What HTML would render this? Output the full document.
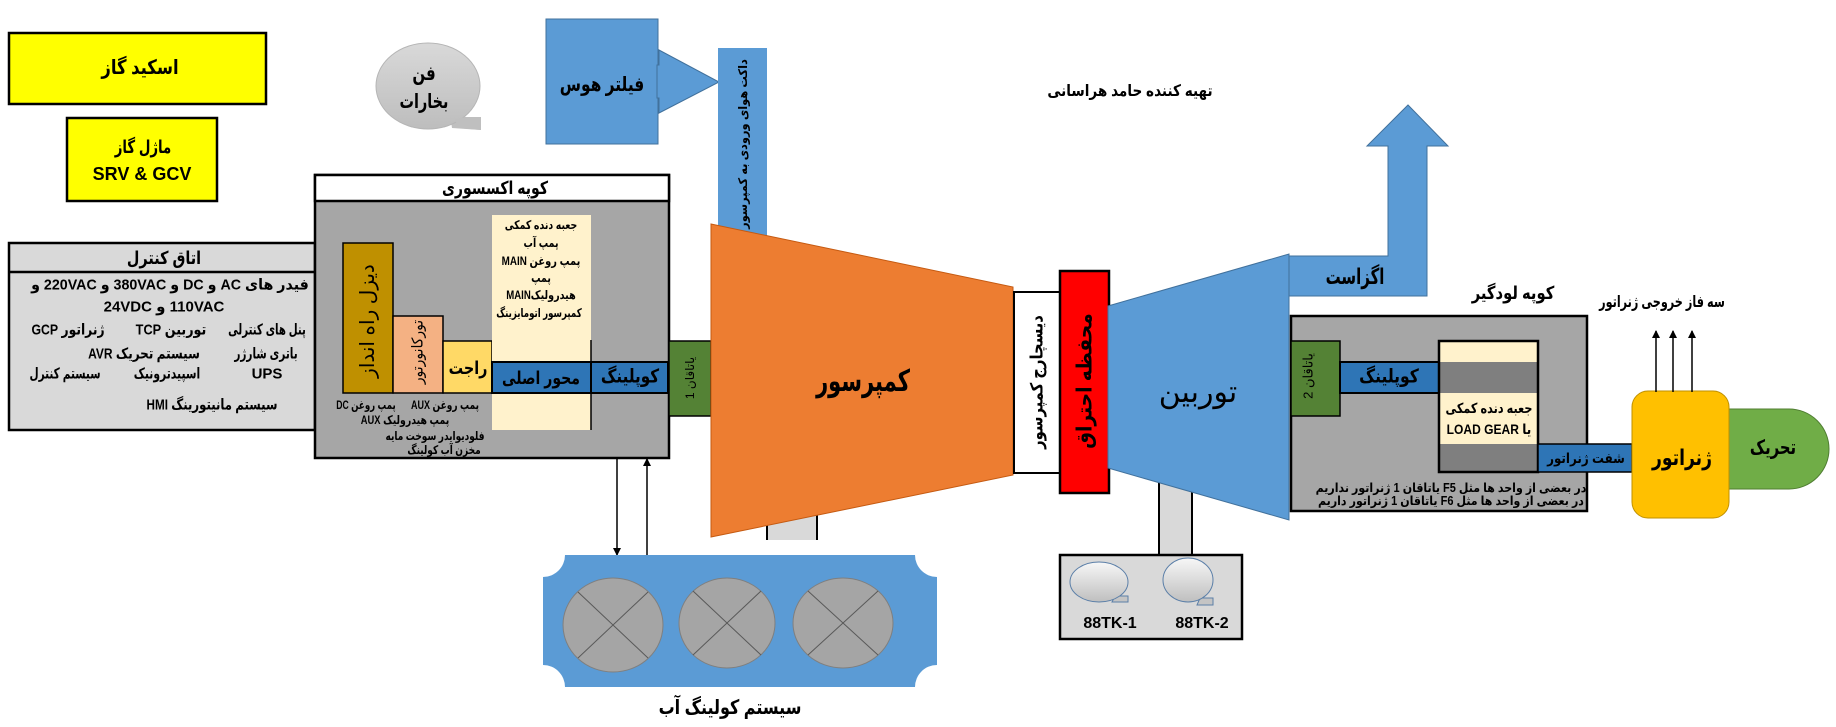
<!DOCTYPE html>
<html><head><meta charset="utf-8">
<style>
body{margin:0;width:1836px;height:727px;background:#fff;position:relative;overflow:hidden;font-family:"Liberation Sans","DejaVu Sans",sans-serif;}
.t{position:absolute;direction:rtl;text-align:center;white-space:nowrap;font-weight:bold;color:#000;transform:translate(-50%,-50%) scaleX(var(--s,1));line-height:1;}
.v{position:absolute;direction:rtl;white-space:nowrap;color:#000;transform:translate(-50%,-50%) rotate(-90deg) scaleX(var(--s,1));line-height:1;}
</style></head><body>
<svg width="1836" height="727" style="position:absolute;left:0;top:0" xmlns="http://www.w3.org/2000/svg">
<defs>
<linearGradient id="gb" x1="0" y1="0" x2="0" y2="1"><stop offset="0" stop-color="#d9d9d9"/><stop offset="1" stop-color="#bdbdbd"/></linearGradient>
<linearGradient id="gt" x1="0" y1="0" x2="0" y2="1"><stop offset="0" stop-color="#f7f7f7"/><stop offset="1" stop-color="#bfbfbf"/></linearGradient>
<marker id="ah" markerWidth="8" markerHeight="8" refX="7" refY="4" orient="auto" markerUnits="userSpaceOnUse"><path d="M0,0 L8,4 L0,8 Z" fill="#000"/></marker>
</defs>
<!-- top left yellow boxes -->
<rect x="9" y="33" width="257" height="71" fill="#ffff00" stroke="#000" stroke-width="2.5"/>
<rect x="67" y="118" width="150" height="83" fill="#ffff00" stroke="#000" stroke-width="2.5"/>
<!-- fan bubble -->
<polygon points="450,115 466,117 481,117 481,130 452,128" fill="#bfbfbf"/>
<ellipse cx="428" cy="86" rx="52" ry="43" fill="url(#gb)" stroke="#b5b5b5"/>
<polygon points="455,119 466,117 481,117 481,130 458,128" fill="#bfbfbf"/>
<!-- filter -->
<rect x="546" y="19" width="112" height="125" fill="#5b9bd5" stroke="#41719c"/>
<polygon points="657,65 659,65 659,50 719,82 659,113 659,98 657,98" fill="#5b9bd5" stroke="#41719c"/>
<!-- duct -->
<rect x="718" y="48" width="49" height="200" fill="#5b9bd5"/>
<!-- control room -->
<rect x="9" y="243" width="306" height="187" fill="#d9d9d9" stroke="#000" stroke-width="2.5"/>
<line x1="9" y1="272" x2="315" y2="272" stroke="#000" stroke-width="2.5"/>
<!-- accessory compartment -->
<rect x="315" y="175" width="354" height="283" fill="#a6a6a6" stroke="#000" stroke-width="2.5"/>
<rect x="315" y="175" width="354" height="26" fill="#fff" stroke="#000" stroke-width="2.5"/>
<rect x="343" y="243" width="50" height="150" fill="#bf9000" stroke="#000" stroke-width="1.5"/>
<rect x="393" y="316" width="50" height="77" fill="#f4b183" stroke="#000" stroke-width="1.5"/>
<rect x="443" y="341" width="49" height="52" fill="#ffd966" stroke="#000" stroke-width="1.5"/>
<rect x="492" y="215" width="99" height="215" fill="#fff2cc"/>
<line x1="591" y1="340" x2="591" y2="430" stroke="#000" stroke-width="1.5"/>
<rect x="492" y="362" width="99" height="31" fill="#2e75b6" stroke="#000" stroke-width="2"/>
<rect x="591" y="362" width="77" height="31" fill="#2e75b6" stroke="#000" stroke-width="2"/>
<rect x="669" y="341" width="42" height="75" fill="#548235" stroke="#000" stroke-width="1.5"/>
<!-- arrows to cooling -->
<line x1="617" y1="458" x2="617" y2="555" stroke="#000" stroke-width="1.5" marker-end="url(#ah)"/>
<line x1="647" y1="556" x2="647" y2="459" stroke="#000" stroke-width="1.5" marker-end="url(#ah)"/>
<!-- compressor support -->
<rect x="767" y="500" width="50" height="40" fill="#d9d9d9"/>
<line x1="767" y1="500" x2="767" y2="540" stroke="#000" stroke-width="2"/>
<line x1="817" y1="500" x2="817" y2="540" stroke="#000" stroke-width="2"/>
<!-- compressor -->
<polygon points="711,224 1013,287 1013,475 711,537" fill="#ed7d31" stroke="#c55a11" stroke-width="1"/>
<rect x="1014" y="292" width="46" height="181" fill="#fff" stroke="#000" stroke-width="2"/>
<rect x="1060" y="271" width="49" height="222" fill="#ff0000" stroke="#000" stroke-width="2.5"/>
<!-- turbine support -->
<rect x="1159" y="440" width="33" height="115" fill="#d9d9d9"/>
<line x1="1159" y1="440" x2="1159" y2="555" stroke="#000" stroke-width="2"/>
<line x1="1192" y1="440" x2="1192" y2="555" stroke="#000" stroke-width="2"/>
<!-- turbine -->
<polygon points="1108,306 1289,254 1289,520 1108,468" fill="#5b9bd5" stroke="#41719c" stroke-width="1"/>
<!-- exhaust -->
<polygon points="1289,256 1388,256 1388,146 1367,146 1408,105 1448,146 1427,146 1427,296 1289,296" fill="#5b9bd5" stroke="#41719c" stroke-width="1"/>
<!-- 88TK box -->
<rect x="1060" y="555" width="182" height="84" fill="#d9d9d9" stroke="#000" stroke-width="2.5"/>
<polygon points="1115,596 1128,596 1128,602 1112,602" fill="#c4c4c4" stroke="#5b7fa8"/>
<ellipse cx="1099" cy="582" rx="29" ry="20" fill="url(#gt)" stroke="#5b7fa8"/>
<polygon points="1200,598 1213,598 1213,605 1197,605" fill="#c4c4c4" stroke="#5b7fa8"/>
<ellipse cx="1188" cy="580" rx="25" ry="22" fill="url(#gt)" stroke="#5b7fa8"/>
<!-- load compartment -->
<rect x="1291" y="316" width="296" height="195" fill="#a6a6a6" stroke="#000" stroke-width="2.5"/>
<rect x="1291" y="341" width="49" height="75" fill="#548235" stroke="#000" stroke-width="1.5"/>
<rect x="1340" y="362" width="99" height="31" fill="#2e75b6" stroke="#000" stroke-width="2"/>
<rect x="1439" y="341" width="99" height="21" fill="#fff2cc"/>
<rect x="1439" y="362" width="99" height="31" fill="#7f7f7f"/>
<rect x="1439" y="393" width="99" height="51" fill="#fff2cc"/>
<rect x="1439" y="444" width="99" height="28" fill="#7f7f7f"/>
<rect x="1439" y="341" width="99" height="131" fill="none" stroke="#000" stroke-width="2.5"/>
<rect x="1538" y="444" width="94" height="28" fill="#2e75b6" stroke="#000" stroke-width="1.5"/>
<!-- generator -->
<path d="M1725,409 H1789 A40,40 0 0 1 1789,489 H1725 Z" fill="#70ad47" stroke="#507e32"/>
<rect x="1632" y="391" width="97" height="127" rx="16" fill="#ffc000" stroke="#bf9000"/>
<line x1="1656" y1="392" x2="1656" y2="331" stroke="#000" stroke-width="1.5" marker-end="url(#ah)"/>
<line x1="1673" y1="392" x2="1673" y2="331" stroke="#000" stroke-width="1.5" marker-end="url(#ah)"/>
<line x1="1692" y1="392" x2="1692" y2="331" stroke="#000" stroke-width="1.5" marker-end="url(#ah)"/>
<!-- cooling -->
<path d="M565,555 H915 A22,22 0 0 0 937,577 V665 A22,22 0 0 0 915,687 H565 A22,22 0 0 0 543,665 V577 A22,22 0 0 0 565,555 Z" fill="#5b9bd5"/>
<g fill="#a5a5a5" stroke="#7f7f7f" stroke-width="1">
<ellipse cx="613" cy="625" rx="50" ry="47"/>
<ellipse cx="727" cy="623" rx="48" ry="45"/>
<ellipse cx="843" cy="623" rx="50" ry="45"/>
</g>
<g stroke="#595959" stroke-width="1">
<line x1="578" y1="592" x2="648" y2="658"/><line x1="648" y1="592" x2="578" y2="658"/>
<line x1="693" y1="591" x2="761" y2="655"/><line x1="761" y1="591" x2="693" y2="655"/>
<line x1="808" y1="591" x2="878" y2="655"/><line x1="878" y1="591" x2="808" y2="655"/>
</g>
</svg>

<div class="t" style="left:140px;top:68px;font-size:20px;--s:0.82">اسکید گاز</div>
<div class="t" style="left:143px;top:147px;font-size:18px;--s:0.74">ماژل گاز</div>
<div class="t" style="left:142px;top:174px;font-size:18px">SRV &amp; GCV</div>
<div class="t" style="left:424px;top:74px;font-size:20px;--s:0.75">فن</div>
<div class="t" style="left:424px;top:102px;font-size:20px;--s:0.72">بخارات</div>
<div class="t" style="left:602px;top:85px;font-size:20px;--s:0.77">فیلتر هوس</div>
<div class="v" style="left:743px;top:144px;font-size:12px;font-weight:bold;--s:0.95">داکت هوای ورودی به کمپرسور</div>
<div class="t" style="left:1130px;top:92px;font-size:16px;--s:0.85">تهیه کننده حامد هراسانی</div>

<div class="t" style="left:164px;top:258px;font-size:18px;--s:0.8">اتاق کنترل</div>
<div class="t" style="left:170px;top:285px;font-size:15px;--s:0.95">فیدر های AC و DC و 380VAC و 220VAC و</div>
<div class="t" style="left:164px;top:307px;font-size:15px">110VAC و 24VDC</div>
<div class="t" style="left:267px;top:330px;font-size:15px;--s:0.68">پنل های کنترلی</div>
<div class="t" style="left:171px;top:330px;font-size:15px;--s:0.85">توربین TCP</div>
<div class="t" style="left:68px;top:330px;font-size:15px;--s:0.82">ژنراتور GCP</div>
<div class="t" style="left:266px;top:354px;font-size:15px;--s:0.7">باتری شارژر</div>
<div class="t" style="left:144px;top:354px;font-size:15px;--s:0.8">سیستم تحریک AVR</div>
<div class="t" style="left:267px;top:374px;font-size:15px">UPS</div>
<div class="t" style="left:167px;top:374px;font-size:15px;--s:0.72">اسپیدترونیک</div>
<div class="t" style="left:65px;top:374px;font-size:15px;--s:0.7">سیستم کنترل</div>
<div class="t" style="left:212px;top:405px;font-size:15px;--s:0.78">سیستم مانیتورینگ HMI</div>

<div class="t" style="left:495px;top:188px;font-size:18px;--s:0.78">کوپه اکسسوری</div>
<div class="v" style="left:368px;top:321px;font-size:20px">دیزل راه انداز</div>
<div class="v" style="left:418px;top:352px;font-size:15px;--s:0.93">تورکانورتور</div>
<div class="t" style="left:468px;top:368px;font-size:18px;--s:0.8">راجت</div>
<div class="t" style="left:541px;top:225px;font-size:12px;--s:0.78">جعبه دنده کمکی</div>
<div class="t" style="left:541px;top:243px;font-size:12px;--s:0.78">پمپ آب</div>
<div class="t" style="left:541px;top:261px;font-size:12px;--s:0.82">پمپ روغن MAIN</div>
<div class="t" style="left:541px;top:278px;font-size:12px;--s:0.78">پمپ</div>
<div class="t" style="left:541px;top:295px;font-size:12px;--s:0.8">هیدرولیکMAIN</div>
<div class="t" style="left:539px;top:313px;font-size:12px;--s:0.72">کمپرسور اتومایزینگ</div>
<div class="t" style="left:541px;top:378px;font-size:18px;--s:0.78">محور اصلی</div>
<div class="t" style="left:630px;top:377px;font-size:19px;--s:0.8">کوپلینگ</div>
<div class="v" style="left:690px;top:378px;font-size:12px">یاتاقان 1</div>
<div class="t" style="left:366px;top:405px;font-size:12px;--s:0.72">پمپ روغن DC</div>
<div class="t" style="left:445px;top:405px;font-size:12px;--s:0.75">پمپ روغن AUX</div>
<div class="t" style="left:405px;top:420px;font-size:12px;--s:0.78">پمپ هیدرولیک AUX</div>
<div class="t" style="left:435px;top:436px;font-size:12px;--s:0.75">فلودیوایدر سوخت مایه</div>
<div class="t" style="left:444px;top:450px;font-size:12px;--s:0.75">مخزن آب کولینگ</div>

<div class="t" style="left:863px;top:382px;font-size:30px;--s:0.7">کمپرسور</div>
<div class="v" style="left:1037px;top:382px;font-size:17px;font-weight:bold;--s:0.87">دیسچارج کمپرسور</div>
<div class="v" style="left:1085px;top:381px;font-size:21px;font-weight:bold;--s:0.89">محفظه احتراق</div>
<div class="t" style="left:1198px;top:393px;font-size:30px;font-weight:normal">توربین</div>
<div class="t" style="left:1355px;top:277px;font-size:22px;--s:0.68">اگزاست</div>

<div class="t" style="left:1513px;top:293px;font-size:18px;--s:0.82">کوپه لودگیر</div>
<div class="v" style="left:1308px;top:376px;font-size:13px">یاتاقان 2</div>
<div class="t" style="left:1389px;top:377px;font-size:19px;--s:0.82">کوپلینگ</div>
<div class="t" style="left:1489px;top:408px;font-size:14px;--s:0.8">جعبه دنده کمکی</div>
<div class="t" style="left:1489px;top:429px;font-size:14px;--s:0.86">یا LOAD GEAR</div>
<div class="t" style="left:1586px;top:458px;font-size:14px;--s:0.85">شفت ژنراتور</div>
<div class="t" style="left:1451px;top:488px;font-size:12.5px;--s:0.88">در بعضی از واحد ها مثل F5 یاتاقان 1 ژنراتور نداریم</div>
<div class="t" style="left:1451px;top:501px;font-size:12.5px;--s:0.88">در بعضی از واحد ها مثل F6 یاتاقان 1 ژنراتور داریم</div>

<div class="t" style="left:1662px;top:303px;font-size:16px;--s:0.7">سه فاز خروجی ژنراتور</div>
<div class="t" style="left:1682px;top:458px;font-size:22px;--s:0.78">ژنراتور</div>
<div class="t" style="left:1773px;top:448px;font-size:20px;--s:0.74">تحریک</div>

<div class="t" style="left:1110px;top:624px;font-size:16px">88TK-1</div>
<div class="t" style="left:1202px;top:624px;font-size:16px">88TK-2</div>
<div class="t" style="left:730px;top:708px;font-size:20px;--s:0.8">سیستم کولینگ آب</div>
</body></html>
